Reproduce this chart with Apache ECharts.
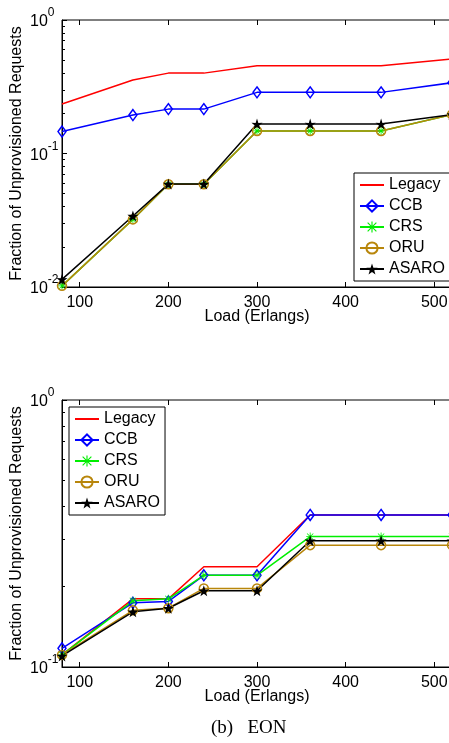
<!DOCTYPE html>
<html>
<head>
<meta charset="utf-8">
<script src="https://cdn.jsdelivr.net/npm/echarts@6/dist/echarts.min.js"></script>
<style>
  html, body { margin: 0; padding: 0; background: #fff; }
  #main { width: 449px; height: 743px; }
</style>
</head>
<body>
<div id="main"></div>
<script>
// load points (Erlangs)
var loads = [80, 160, 200, 240, 300, 360, 440, 520];
var xTicks = [100, 200, 300, 400, 500];
var names = ["Legacy", "CCB", "CRS", "ORU", "ASARO"];

// upper panel
var topLegacy = [0.235, 0.355, 0.40, 0.40, 0.455, 0.455, 0.455, 0.51];
var topCCB = [0.146, 0.194, 0.215, 0.215, 0.287, 0.287, 0.287, 0.339];
var topCRS = [0.0102, 0.0321, 0.0588, 0.0588, 0.1475, 0.1475, 0.1475, 0.196];
var topORU = [0.0102, 0.0321, 0.0588, 0.0588, 0.1475, 0.1475, 0.1475, 0.196];
var topASARO = [0.0114, 0.034, 0.059, 0.059, 0.166, 0.166, 0.166, 0.196];
var topYTicks = [0.01, 0.1, 1];
var topYMinor = [0.02, 0.03, 0.04, 0.05, 0.06, 0.07, 0.08, 0.09,
                 0.2, 0.3, 0.4, 0.5, 0.6, 0.7, 0.8, 0.9];

// lower panel (EON)
var eonLegacy = [0.111, 0.180, 0.180, 0.2375, 0.2375, 0.371, 0.371, 0.371];
var eonCCB = [0.1175, 0.174, 0.176, 0.2205, 0.2205, 0.371, 0.371, 0.371];
var eonCRS = [0.111, 0.177, 0.180, 0.2205, 0.2205, 0.308, 0.308, 0.308];
var eonORU = [0.111, 0.163, 0.166, 0.197, 0.197, 0.286, 0.286, 0.286];
var eonASARO = [0.110, 0.161, 0.166, 0.193, 0.193, 0.297, 0.297, 0.297];
var eonYTicks = [0.1, 1];
var eonYMinor = [0.2, 0.3, 0.4, 0.5, 0.6, 0.7, 0.8, 0.9];

var font = "Liberation Sans";
var asterisk = "path://M0 9H20V11H0Z M9 0H11V20H9Z M2.9 1.5L18.5 17.1L17.1 18.5L1.5 2.9Z M17.1 1.5L18.5 2.9L2.9 18.5L1.5 17.1Z";
var star = "path://M50 0L61.8 35.1L97.6 34.5L69.1 56.7L79.4 90.5L50 70L20.6 90.5L30.9 56.7L2.4 34.5L38.2 35.1Z";

// look of each method
var looks = {
  Legacy: { color: "#ff0000", symbol: "none" },
  CCB: { color: "#0000ff", symbol: "diamond", size: [8, 11], hollow: true },
  CRS: { color: "#00ee00", symbol: asterisk, size: 8 },
  ORU: { color: "#b8860b", symbol: "circle", size: 9, hollow: true },
  ASARO: { color: "#000000", symbol: star, size: 11 }
};

function pairs(ys) {
  return loads.map(function (x, i) { return [x, ys[i]]; });
}

function makeSeries(name, ys, idx) {
  var lk = looks[name];
  var item;
  if (lk.symbol === "none") {
    item = { color: "rgba(0,0,0,0)", borderWidth: 0 };
  } else if (lk.hollow) {
    item = { color: "rgba(0,0,0,0)", borderColor: lk.color, borderWidth: 1.5 };
  } else {
    item = { color: lk.color, borderWidth: 0 };
  }
  return {
    name: name,
    type: "line",
    xAxisIndex: idx,
    yAxisIndex: idx,
    data: pairs(ys),
    symbol: lk.symbol,
    symbolSize: lk.size || 0,
    showSymbol: lk.symbol !== "none",
    lineStyle: { color: lk.color, width: 1.5 },
    itemStyle: item,
    emphasis: { disabled: true },
    z: 3
  };
}

function xAxisFor(idx, pos) {
  return {
    type: "value",
    gridIndex: idx,
    position: pos,
    min: 80,
    max: 520,
    splitLine: { show: false },
    axisLine: { show: pos === "bottom", lineStyle: { color: "#000", width: 1 } },
    axisTick: { inside: true, length: 5, customValues: xTicks, lineStyle: { color: "#000" } },
    axisLabel: {
      show: pos === "bottom",
      customValues: xTicks,
      margin: 8,
      color: "#000",
      fontFamily: font,
      fontSize: 16
    },
    name: pos === "bottom" ? "Load (Erlangs)" : "",
    nameLocation: "middle",
    nameGap: 22,
    nameMoveOverlap: false,
    nameTextStyle: { color: "#000", fontFamily: font, fontSize: 16 }
  };
}

function yAxisFor(idx, minV, ticks) {
  return {
    type: "log",
    logBase: 10,
    gridIndex: idx,
    position: "left",
    offset: 0,
    min: minV,
    max: 1,
    splitLine: { show: false },
    minorTick: { show: false },
    axisLine: { show: true, lineStyle: { color: "#000", width: 1 } },
    axisTick: { inside: true, length: 5, customValues: ticks, lineStyle: { color: "#000" } },
    axisLabel: {
      customValues: ticks,
      align: "left",
      margin: 32,
      color: "#000",
      fontFamily: font,
      fontSize: 16,
      formatter: function (v) {
        return "{b|10}{s|" + Math.round(Math.log10(v)) + "}";
      },
      rich: {
        b: { fontSize: 16, fontFamily: font, color: "#000", padding: [4, 0, 0, 0] },
        s: { fontSize: 12, fontFamily: font, color: "#000", padding: [0, 0, 14, 0] }
      }
    },
    name: "Fraction of Unprovisioned Requests",
    nameLocation: "middle",
    nameRotate: 90,
    nameGap: 37,
    nameMoveOverlap: false,
    nameTextStyle: { color: "#000", fontFamily: font, fontSize: 16 }
  };
}

// second log axis on the same grid, used only for the 2..9 minor ticks
function minorAxisFor(idx, minV, ticks) {
  return {
    type: "log",
    logBase: 10,
    gridIndex: idx,
    position: "left",
    offset: 0,
    min: minV,
    max: 1,
    splitLine: { show: false },
    axisLine: { show: false },
    axisLabel: { show: false, customValues: ticks },
    axisTick: { show: true, inside: true, length: 3, customValues: ticks, lineStyle: { color: "#000", width: 1 } }
  };
}

function legendFor(idx, left, top) {
  return {
    data: names,
    orient: "vertical",
    left: left,
    top: top,
    itemWidth: 24,
    itemHeight: 14,
    itemGap: 5,
    itemTextGap: 3,
    padding: [4, 5, 4, 5],
    borderColor: "#000",
    borderWidth: 1,
    backgroundColor: "#fff",
    selectedMode: false,
    textStyle: { color: "#000", fontFamily: font, fontSize: 16, lineHeight: 16 }
  };
}

var series = [
  makeSeries("Legacy", topLegacy, 0),
  makeSeries("CCB", topCCB, 0),
  makeSeries("CRS", topCRS, 0),
  makeSeries("ORU", topORU, 0),
  makeSeries("ASARO", topASARO, 0),
  makeSeries("Legacy", eonLegacy, 1),
  makeSeries("CCB", eonCCB, 1),
  makeSeries("CRS", eonCRS, 1),
  makeSeries("ORU", eonORU, 1),
  makeSeries("ASARO", eonASARO, 1)
];

var chart = echarts.init(document.getElementById("main"), null, { renderer: "canvas" });
var option = {
  animation: false,
  backgroundColor: "#fff",
  grid: [
    { left: 62, right: -3, top: 20, height: 267, show: true, borderColor: "#000", borderWidth: 1, outerBoundsMode: "none", containLabel: false },
    { left: 62, right: -3, top: 400, height: 267, show: true, borderColor: "#000", borderWidth: 1, outerBoundsMode: "none", containLabel: false }
  ],
  xAxis: [xAxisFor(0, "bottom"), xAxisFor(1, "bottom"), xAxisFor(0, "top"), xAxisFor(1, "top")],
  yAxis: [
    yAxisFor(0, 0.01, topYTicks),
    yAxisFor(1, 0.1, eonYTicks),
    minorAxisFor(0, 0.01, topYMinor),
    minorAxisFor(1, 0.1, eonYMinor)
  ],
  legend: [legendFor(0, 354, 173), legendFor(1, 69, 407)],
  title: {
    text: "(b)   EON",
    left: 206,
    top: 714,
    textStyle: { color: "#000", fontFamily: "Liberation Serif", fontSize: 19, fontWeight: "normal" }
  },
  series: series
};
chart.setOption(option);
</script>
</body>
</html>
